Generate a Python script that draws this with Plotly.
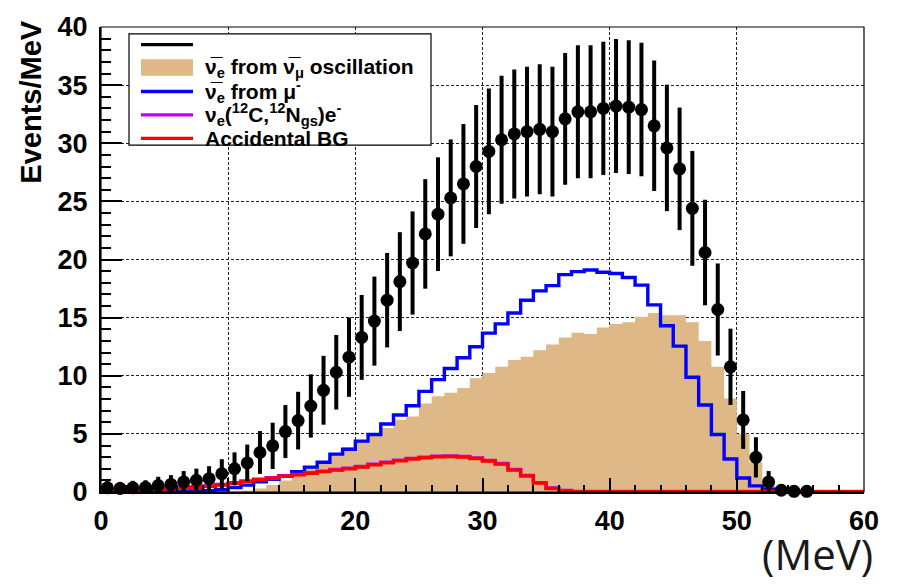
import numpy as np
import plotly.graph_objects as go

# ---- binning: 1 MeV bins from 0 to 60 MeV ----
bin_edges = list(range(0, 61))
point_centers = [i + 0.5 for i in range(56)]

# ---- measured spectrum (Events/MeV) with statistical errors ----
data_counts = [0.36, 0.31, 0.36, 0.39, 0.56, 0.65, 0.87, 1.01, 1.15, 1.57,
               2.0, 2.5, 3.4, 3.97, 5.2, 6.14, 7.4, 8.75, 10.3, 11.6,
               13.3, 14.7, 16.5, 18.1, 19.7, 22.2, 23.9, 25.3, 26.5, 28.0,
               29.3, 30.3, 30.8, 31.0, 31.2, 31.0, 32.1, 32.7, 32.7, 33.0,
               33.2, 33.1, 32.9, 31.5, 29.6, 27.8, 24.4, 20.6, 15.7, 10.77,
               6.2, 2.98, 0.87, 0.15, 0.06, 0.06]
data_errors = [0.6, 0.56, 0.6, 0.62, 0.75, 0.8, 0.93, 1.0, 1.07, 1.25,
               1.41, 1.58, 1.84, 1.99, 2.28, 2.48, 2.72, 2.96, 3.21, 3.41,
               3.65, 3.83, 4.06, 4.25, 4.44, 4.71, 4.89, 5.03, 5.15, 5.29,
               5.41, 5.5, 5.55, 5.57, 5.59, 5.57, 5.67, 5.72, 5.72, 5.74,
               5.76, 5.75, 5.74, 5.61, 5.44, 5.27, 4.94, 4.54, 3.96, 3.28,
               2.49, 1.73, 0.93, 0.39, 0.24, 0.24]

# ---- anti-nu_e from anti-nu_mu oscillation (filled histogram) ----
osc_hist = [0, 0, 0, 0, 0, 0, 0, 0, 0, 0,
            0.05, 0.12, 0.3, 0.6, 1.0, 1.5, 2.1, 2.65, 3.35, 3.85,
            4.45, 4.9, 5.5, 6.21, 6.49, 7.62, 8.23, 8.54, 8.94, 9.78,
            10.23, 10.77, 11.35, 11.64, 12.2, 12.68, 13.3, 13.7, 13.6, 14.16,
            14.45, 14.6, 15.07, 15.4, 15.2, 15.2, 14.6, 13.0, 10.77, 8.04,
            5.0, 2.56, 0.6, 0.1, 0, 0, 0, 0, 0, 0]

# ---- anti-nu_e from mu- decay ----
mu_hist = [0, 0, 0, 0.01, 0.02, 0.03, 0.05, 0.08, 0.12, 0.2,
           0.39, 0.59, 0.87, 1.1, 1.4, 1.74, 2.14, 2.56, 3.26, 3.68,
           4.38, 4.95, 5.85, 6.63, 7.42, 8.66, 9.67, 10.62, 11.55, 12.5,
           13.67, 14.46, 15.4, 16.5, 17.3, 17.75, 18.7, 18.96, 19.1, 18.9,
           18.8, 18.45, 17.8, 16.1, 14.3, 12.55, 9.87, 7.48, 4.95, 2.84,
           1.2, 0.53, 0.25, 0.05, 0, 0, 0, 0, 0, 0]

# ---- nu_e (12C, 12N_gs) e- ----
c12_hist = [0.2, 0.2, 0.21, 0.23, 0.27, 0.32, 0.38, 0.45, 0.53, 0.65,
            0.8, 0.95, 1.1, 1.23, 1.4, 1.52, 1.65, 1.8, 1.93, 2.05,
            2.2, 2.39, 2.57, 2.73, 2.89, 3.0, 3.08, 3.1, 3.05, 2.93,
            2.71, 2.45, 1.93, 1.43, 0.81, 0.35, 0.13, 0.04, 0.04, 0.04,
            0.04, 0.04, 0.04, 0.04, 0.04, 0.04, 0.04, 0.04, 0.04, 0.04,
            0.04, 0.04, 0.04, 0.04, 0.04, 0.04, 0.04, 0.04, 0.04, 0.04]

# ---- accidental background ----
acc_hist = [0.15, 0.15, 0.16, 0.18, 0.22, 0.27, 0.33, 0.4, 0.48, 0.6,
            0.75, 0.9, 1.05, 1.18, 1.35, 1.47, 1.6, 1.75, 1.88, 2.0,
            2.15, 2.34, 2.52, 2.68, 2.84, 2.95, 3.03, 3.05, 3.0, 2.88,
            2.66, 2.4, 1.88, 1.38, 0.76, 0.3, 0.1, 0.02, 0.02, 0.02,
            0.02, 0.02, 0.02, 0.02, 0.02, 0.02, 0.02, 0.02, 0.02, 0.02,
            0.02, 0.02, 0.02, 0.02, 0.02, 0.02, 0.02, 0.02, 0.02, 0.02]

TAN = "#deb887"
BLUE = "#0000ff"
MAGENTA = "#c000ff"
RED = "#ff0000"
FONT = "Liberation Sans"


def step_y(vals):
    # hv step outline: one value per bin edge, repeat the last bin
    return list(vals) + [vals[-1]]


fig = go.Figure()

fig.add_trace(go.Scatter(
    x=bin_edges, y=step_y(osc_hist), mode="lines", line_shape="hv",
    line=dict(width=0, color=TAN), fill="tozeroy", fillcolor=TAN,
    hoverinfo="skip", showlegend=False))

for vals, col in ((mu_hist, BLUE), (c12_hist, MAGENTA), (acc_hist, RED)):
    fig.add_trace(go.Scatter(
        x=bin_edges, y=step_y(vals), mode="lines", line_shape="hv",
        line=dict(width=3.4, color=col), hoverinfo="skip", showlegend=False))

fig.add_trace(go.Scatter(
    x=point_centers, y=data_counts, mode="markers",
    marker=dict(symbol="circle", size=13, color="black"),
    error_y=dict(type="data", array=data_errors, visible=True,
                 thickness=4, width=0, color="black"),
    cliponaxis=False, showlegend=False))

# ---- plot area geometry in pixels ----
W, H = 904, 585
L, R, T, B = 101, 40, 16, 93
PW, PH = W - L - R, H - T - B


def px(x):
    return (x - L) / PW


def py(y):
    return (H - B - y) / PH


axis_common = dict(
    showline=True, linecolor="black", linewidth=2.2, mirror=False,
    ticks="inside", tickcolor="black", tickwidth=2,
    showgrid=True, gridcolor="#222222", gridwidth=1, griddash="3px,2px",
    zeroline=False,
    tickfont=dict(family=FONT, size=27, color="black", weight="bold"),
)

fig.update_xaxes(range=[0, 60], dtick=10, tick0=0, ticklen=14,
                 minor=dict(dtick=2, ticklen=7, tickwidth=2, ticks="inside",
                            tickcolor="black", showgrid=False),
                 ticklabelstandoff=3, **axis_common)
fig.update_yaxes(range=[0, 40], dtick=5, tick0=0, ticklen=21,
                 minor=dict(dtick=1, ticklen=10, tickwidth=2, ticks="inside",
                            tickcolor="black", showgrid=False),
                 ticklabelstandoff=6, **axis_common)

shapes = [
    # thin frame around the plot area
    dict(type="rect", xref="paper", yref="paper", x0=0, y0=0, x1=1, y1=1,
         line=dict(color="black", width=1.2), layer="above"),
    # legend box
    dict(type="rect", xref="paper", yref="paper",
         x0=px(129), x1=px(431), y0=py(137), y1=py(23),
         line=dict(color="black", width=1.2), fillcolor="white", layer="above"),
]

legend_rows = [
    ("line", "black", ""),
    ("fill", TAN, "ν\u0305<sub>e</sub> from ν\u0305<sub>μ</sub> oscillation"),
    ("line", BLUE, "ν\u0305<sub>e</sub> from μ<sup>-</sup>"),
    ("line", MAGENTA, "ν<sub>e</sub>(<sup>12</sup>C,<sup>12</sup>N<sub>gs</sub>)e<sup>-</sup>"),
    ("line", RED, "Accidental BG"),
]
row_y = [34, 58, 82, 106, 130]

annotations = []
for (kind, col, label), yy in zip(legend_rows, row_y):
    if kind == "fill":
        shapes.append(dict(type="rect", xref="paper", yref="paper",
                           x0=px(141), x1=px(193), y0=py(yy + 8), y1=py(yy - 9),
                           line=dict(width=0), fillcolor=col, layer="above"))
    else:
        shapes.append(dict(type="line", xref="paper", yref="paper",
                           x0=px(141), x1=px(193), y0=py(yy), y1=py(yy),
                           line=dict(color=col, width=3.4), layer="above"))
    if label:
        annotations.append(dict(
            xref="paper", yref="paper", x=px(203), y=py(yy),
            xanchor="left", yanchor="middle", showarrow=False, text=label,
            font=dict(family=FONT, size=21, color="black", weight="bold")))

annotations.append(dict(
    xref="paper", yref="paper", x=px(31), y=py(8),
    xanchor="center", yanchor="top", showarrow=False, textangle=-90,
    text="Events/MeV",
    font=dict(family=FONT, size=29, color="black", weight="bold")))

annotations.append(dict(
    xref="paper", yref="paper", x=px(817), y=py(555),
    xanchor="center", yanchor="middle", showarrow=False,
    text="(MeV)", font=dict(family="Open Sans", size=42, color="#1a1a1a")))

fig.update_layout(
    width=W, height=H,
    margin=dict(l=L, r=R, t=T, b=B),
    paper_bgcolor="white", plot_bgcolor="white",
    font=dict(family=FONT, color="black"),
    shapes=shapes, annotations=annotations,
    showlegend=False,
)

fig.write_html("out.html")
